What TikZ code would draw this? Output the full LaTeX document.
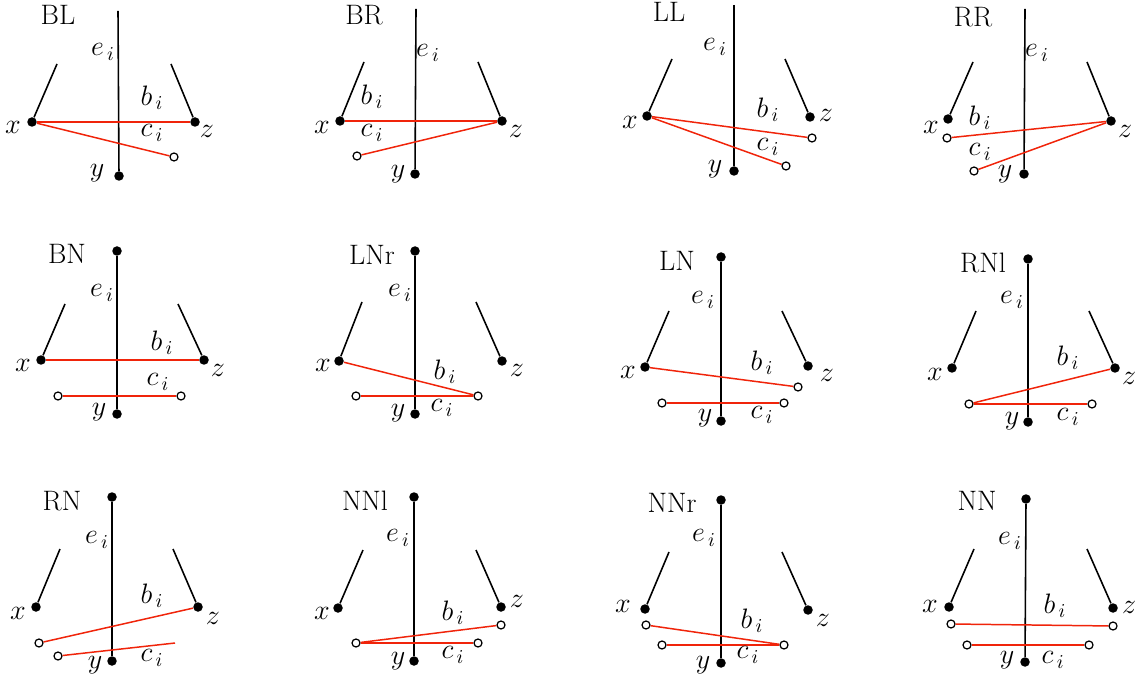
\documentclass[tikz,border=0pt]{standalone}
\usepackage{fix-cm}
\usepackage{tikz}
\usetikzlibrary{positioning}
\definecolor{edgered}{RGB}{240,36,10}

\begin{document}
\begin{tikzpicture}[x=0.02cm, y=-0.02cm,
  every node/.style={font=\fontsize{16}{19}\selectfont},
  fulldot/.style={circle, fill=black, inner sep=0pt, minimum size=0.19cm},
  opendot/.style={circle, draw=black, fill=white, line width=0.7pt, inner sep=0pt, minimum size=0.16cm},
  lbl/.style={inner sep=0pt},
  spine/.style={black, line width=0.9pt},
  link/.style={edgered, line width=0.85pt}]
\useasboundingbox (0,0) rectangle (1141,678);

% BL
\node [lbl] (BLname) at (58,15) {BL};
\coordinate (BLtop) at (118,11);
\coordinate (BLxs) at (57,64);
\coordinate (BLzs) at (171,64);
\node [fulldot] (BLy) at (119,176) {};
\node [fulldot] (BLx) at (32,122) {};
\node [fulldot] (BLz) at (195,122) {};
\node [opendot] (BLc) at (174,157) {};
\draw [spine] (BLtop) -- (BLy);
\draw [spine] (BLx) -- (BLxs);
\draw [spine] (BLz) -- (BLzs);
\draw [link] (BLx) -- (BLz);
\draw [link] (BLx) -- (BLc);
\node [lbl] (BLel) at (103,52) {$e_{\,i}$};
\node [lbl] (BLbl) at (152,98) {$b_{\,i}$};
\node [lbl] (BLcl) at (152,133) {$c_{\,i}$};
\node [lbl] (BLxl) at (13,127) {$x$};
\node [lbl] (BLyl) at (97,173) {$y$};
\node [lbl] (BLzl) at (207,131) {$z$};

% BR
\node [lbl] (BRname) at (364,15) {BR};
\coordinate (BRtop) at (416,9);
\coordinate (BRxs) at (364,62);
\coordinate (BRzs) at (478,62);
\node [fulldot] (BRy) at (415,174) {};
\node [fulldot] (BRx) at (340,121) {};
\node [fulldot] (BRz) at (502,121) {};
\node [opendot] (BRc) at (357,156) {};
\draw [spine] (BRtop) -- (BRy);
\draw [spine] (BRx) -- (BRxs);
\draw [spine] (BRz) -- (BRzs);
\draw [link] (BRx) -- (BRz);
\draw [link] (BRz) -- (BRc);
\node [lbl] (BRel) at (428,53) {$e_{\,i}$};
\node [lbl] (BRbl) at (372,97) {$b_{\,i}$};
\node [lbl] (BRcl) at (372,133) {$c_{\,i}$};
\node [lbl] (BRxl) at (322,127) {$x$};
\node [lbl] (BRyl) at (398,174) {$y$};
\node [lbl] (BRzl) at (516,131) {$z$};

% LL
\node [lbl] (LLname) at (669,12) {LL};
\coordinate (LLtop) at (734,5);
\coordinate (LLxs) at (672,59);
\coordinate (LLzs) at (785,59);
\node [fulldot] (LLy) at (734,171) {};
\node [fulldot] (LLx) at (647,116) {};
\node [fulldot] (LLz) at (810,117) {};
\node [opendot] (LLb) at (812,138) {};
\node [opendot] (LLc) at (786,166) {};
\draw [spine] (LLtop) -- (LLy);
\draw [spine] (LLx) -- (LLxs);
\draw [spine] (LLz) -- (LLzs);
\draw [link] (LLx) -- (LLb);
\draw [link] (LLx) -- (LLc);
\node [lbl] (LLel) at (715,47) {$e_{\,i}$};
\node [lbl] (LLbl) at (768,110) {$b_{\,i}$};
\node [lbl] (LLcl) at (768,147) {$c_{\,i}$};
\node [lbl] (LLxl) at (630,122) {$x$};
\node [lbl] (LLyl) at (715,169) {$y$};
\node [lbl] (LLzl) at (826,115) {$z$};

% RR
\node [lbl] (RRname) at (973,17) {RR};
\coordinate (RRtop) at (1025,9);
\coordinate (RRxs) at (973,62);
\coordinate (RRzs) at (1087,62);
\node [fulldot] (RRy) at (1024,174) {};
\node [fulldot] (RRx) at (948,119) {};
\node [fulldot] (RRz) at (1111,121) {};
\node [opendot] (RRb) at (947,138) {};
\node [opendot] (RRc) at (974,171) {};
\draw [spine] (RRtop) -- (RRy);
\draw [spine] (RRx) -- (RRxs);
\draw [spine] (RRz) -- (RRzs);
\draw [link] (RRz) -- (RRb);
\draw [link] (RRz) -- (RRc);
\node [lbl] (RRel) at (1037,53) {$e_{\,i}$};
\node [lbl] (RRbl) at (980,118) {$b_{\,i}$};
\node [lbl] (RRcl) at (980,152) {$c_{\,i}$};
\node [lbl] (RRxl) at (931,127) {$x$};
\node [lbl] (RRyl) at (1005,174) {$y$};
\node [lbl] (RRzl) at (1125,131) {$z$};

% BN
\node [lbl] (BNname) at (67,254) {BN};
\node [fulldot] (BNtop) at (117,251) {};
\coordinate (BNxs) at (65,304);
\coordinate (BNzs) at (178,304);
\node [fulldot] (BNy) at (117,414) {};
\node [fulldot] (BNx) at (41,360) {};
\node [fulldot] (BNz) at (204,360) {};
\node [opendot] (BNc1) at (58,396) {};
\node [opendot] (BNc2) at (181,396) {};
\draw [spine] (BNtop) -- (BNy);
\draw [spine] (BNx) -- (BNxs);
\draw [spine] (BNz) -- (BNzs);
\draw [link] (BNx) -- (BNz);
\draw [link] (BNc1) -- (BNc2);
\node [lbl] (BNel) at (102,293) {$e_{\,i}$};
\node [lbl] (BNbl) at (162,343) {$b_{\,i}$};
\node [lbl] (BNcl) at (158,382) {$c_{\,i}$};
\node [lbl] (BNxl) at (23,365) {$x$};
\node [lbl] (BNyl) at (99,412) {$y$};
\node [lbl] (BNzl) at (218,370) {$z$};

% LNr
\node [lbl] (LNrname) at (372,255) {LNr};
\node [fulldot] (LNrtop) at (415,251) {};
\coordinate (LNrxs) at (362,302);
\coordinate (LNrzs) at (476,302);
\node [fulldot] (LNry) at (415,414) {};
\node [fulldot] (LNrx) at (339,361) {};
\node [fulldot] (LNrz) at (502,361) {};
\node [opendot] (LNrc1) at (356,396) {};
\node [opendot] (LNrc2) at (478,396) {};
\draw [spine] (LNrtop) -- (LNry);
\draw [spine] (LNrx) -- (LNrxs);
\draw [spine] (LNrz) -- (LNrzs);
\draw [link] (LNrx) -- (LNrc2);
\draw [link] (LNrc1) -- (LNrc2);
\node [lbl] (LNrel) at (400,293) {$e_{\,i}$};
\node [lbl] (LNrbl) at (445,372) {$b_{\,i}$};
\node [lbl] (LNrcl) at (442,408) {$c_{\,i}$};
\node [lbl] (LNrxl) at (323,365) {$x$};
\node [lbl] (LNryl) at (398,413) {$y$};
\node [lbl] (LNrzl) at (517,370) {$z$};

% LN
\node [lbl] (LNname) at (677,261) {LN};
\node [fulldot] (LNtop) at (721,257) {};
\coordinate (LNxs) at (669,311);
\coordinate (LNzs) at (782,311);
\node [fulldot] (LNy) at (721,421) {};
\node [fulldot] (LNx) at (645,367) {};
\node [fulldot] (LNz) at (808,366) {};
\node [opendot] (LNb) at (798,387) {};
\node [opendot] (LNc1) at (662,403) {};
\node [opendot] (LNc2) at (784,403) {};
\draw [spine] (LNtop) -- (LNy);
\draw [spine] (LNx) -- (LNxs);
\draw [spine] (LNz) -- (LNzs);
\draw [link] (LNx) -- (LNb);
\draw [link] (LNc1) -- (LNc2);
\node [lbl] (LNel) at (703,300) {$e_{\,i}$};
\node [lbl] (LNbl) at (762,363) {$b_{\,i}$};
\node [lbl] (LNcl) at (762,415) {$c_{\,i}$};
\node [lbl] (LNxl) at (628,372) {$x$};
\node [lbl] (LNyl) at (705,418) {$y$};
\node [lbl] (LNzl) at (827,375) {$z$};

% RNl
\node [lbl] (RNlname) at (983,263) {RNl};
\node [fulldot] (RNltop) at (1028,259) {};
\coordinate (RNlxs) at (976,311);
\coordinate (RNlzs) at (1089,311);
\node [fulldot] (RNly) at (1028,422) {};
\node [fulldot] (RNlx) at (952,368) {};
\node [fulldot] (RNlz) at (1115,368) {};
\node [opendot] (RNlc1) at (969,404) {};
\node [opendot] (RNlc2) at (1092,404) {};
\draw [spine] (RNltop) -- (RNly);
\draw [spine] (RNlx) -- (RNlxs);
\draw [spine] (RNlz) -- (RNlzs);
\draw [link] (RNlz) -- (RNlc1);
\draw [link] (RNlc1) -- (RNlc2);
\node [lbl] (RNlel) at (1012,300) {$e_{\,i}$};
\node [lbl] (RNlbl) at (1068,358) {$b_{\,i}$};
\node [lbl] (RNlcl) at (1068,417) {$c_{\,i}$};
\node [lbl] (RNlxl) at (935,374) {$x$};
\node [lbl] (RNlyl) at (1012,421) {$y$};
\node [lbl] (RNlzl) at (1129,378) {$z$};

% RN
\node [lbl] (RNname) at (62,501) {RN};
\node [fulldot] (RNtop) at (112,497) {};
\coordinate (RNxs) at (60,549);
\coordinate (RNzs) at (173,549);
\coordinate (RNcend) at (175,643);
\node [fulldot] (RNy) at (112,661) {};
\node [fulldot] (RNx) at (36,607) {};
\node [fulldot] (RNz) at (198,607) {};
\node [opendot] (RNb) at (39,643) {};
\node [opendot] (RNc) at (58,656) {};
\draw [spine] (RNtop) -- (RNy);
\draw [spine] (RNx) -- (RNxs);
\draw [spine] (RNz) -- (RNzs);
\draw [link] (RNz) -- (RNb);
\draw [link] (RNc) -- (RNcend);
\node [lbl] (RNel) at (97,540) {$e_{\,i}$};
\node [lbl] (RNbl) at (152,596) {$b_{\,i}$};
\node [lbl] (RNcl) at (152,658) {$c_{\,i}$};
\node [lbl] (RNxl) at (18,613) {$x$};
\node [lbl] (RNyl) at (95,665) {$y$};
\node [lbl] (RNzl) at (213,618) {$z$};

% NNl
\node [lbl] (NNlname) at (365,501) {NNl};
\node [fulldot] (NNltop) at (414,497) {};
\coordinate (NNlxs) at (363,550);
\coordinate (NNlzs) at (476,550);
\node [fulldot] (NNly) at (414,661) {};
\node [fulldot] (NNlx) at (338,608) {};
\node [fulldot] (NNlz) at (501,607) {};
\node [opendot] (NNlb) at (501,625) {};
\node [opendot] (NNlc1) at (356,643) {};
\node [opendot] (NNlc2) at (478,643) {};
\draw [spine] (NNltop) -- (NNly);
\draw [spine] (NNlx) -- (NNlxs);
\draw [spine] (NNlz) -- (NNlzs);
\draw [link] (NNlc1) -- (NNlb);
\draw [link] (NNlc1) -- (NNlc2);
\node [lbl] (NNlel) at (398,538) {$e_{\,i}$};
\node [lbl] (NNlbl) at (453,613) {$b_{\,i}$};
\node [lbl] (NNlcl) at (453,655) {$c_{\,i}$};
\node [lbl] (NNlxl) at (322,613) {$x$};
\node [lbl] (NNlyl) at (398,661) {$y$};
\node [lbl] (NNlzl) at (517,601) {$z$};

% NNr
\node [lbl] (NNrname) at (672,503) {NNr};
\node [fulldot] (NNrtop) at (721,500) {};
\coordinate (NNrxs) at (669,552);
\coordinate (NNrzs) at (782,552);
\node [fulldot] (NNry) at (721,663) {};
\node [fulldot] (NNrx) at (645,609) {};
\node [fulldot] (NNrz) at (808,610) {};
\node [opendot] (NNrb) at (646,625) {};
\node [opendot] (NNrc1) at (662,645) {};
\node [opendot] (NNrc2) at (784,645) {};
\draw [spine] (NNrtop) -- (NNry);
\draw [spine] (NNrx) -- (NNrxs);
\draw [spine] (NNrz) -- (NNrzs);
\draw [link] (NNrb) -- (NNrc2);
\draw [link] (NNrc1) -- (NNrc2);
\node [lbl] (NNrel) at (704,538) {$e_{\,i}$};
\node [lbl] (NNrbl) at (752,621) {$b_{\,i}$};
\node [lbl] (NNrcl) at (748,655) {$c_{\,i}$};
\node [lbl] (NNrxl) at (623,606) {$x$};
\node [lbl] (NNryl) at (703,665) {$y$};
\node [lbl] (NNrzl) at (823,620) {$z$};

% NN
\node [lbl] (NNname) at (977,501) {NN};
\node [fulldot] (NNtop) at (1026,499) {};
\coordinate (NNxs) at (974,549);
\coordinate (NNzs) at (1087,549);
\node [fulldot] (NNy) at (1025,662) {};
\node [fulldot] (NNx) at (949,607) {};
\node [fulldot] (NNz) at (1113,608) {};
\node [opendot] (NNb1) at (951,624) {};
\node [opendot] (NNb2) at (1113,626) {};
\node [opendot] (NNc1) at (967,645) {};
\node [opendot] (NNc2) at (1089,645) {};
\draw [spine] (NNtop) -- (NNy);
\draw [spine] (NNx) -- (NNxs);
\draw [spine] (NNz) -- (NNzs);
\draw [link] (NNb1) -- (NNb2);
\draw [link] (NNc1) -- (NNc2);
\node [lbl] (NNel) at (1010,541) {$e_{\,i}$};
\node [lbl] (NNbl) at (1055,606) {$b_{\,i}$};
\node [lbl] (NNcl) at (1053,660) {$c_{\,i}$};
\node [lbl] (NNxl) at (930,606) {$x$};
\node [lbl] (NNyl) at (1007,660) {$y$};
\node [lbl] (NNzl) at (1129,607) {$z$};
\end{tikzpicture}
\end{document}
